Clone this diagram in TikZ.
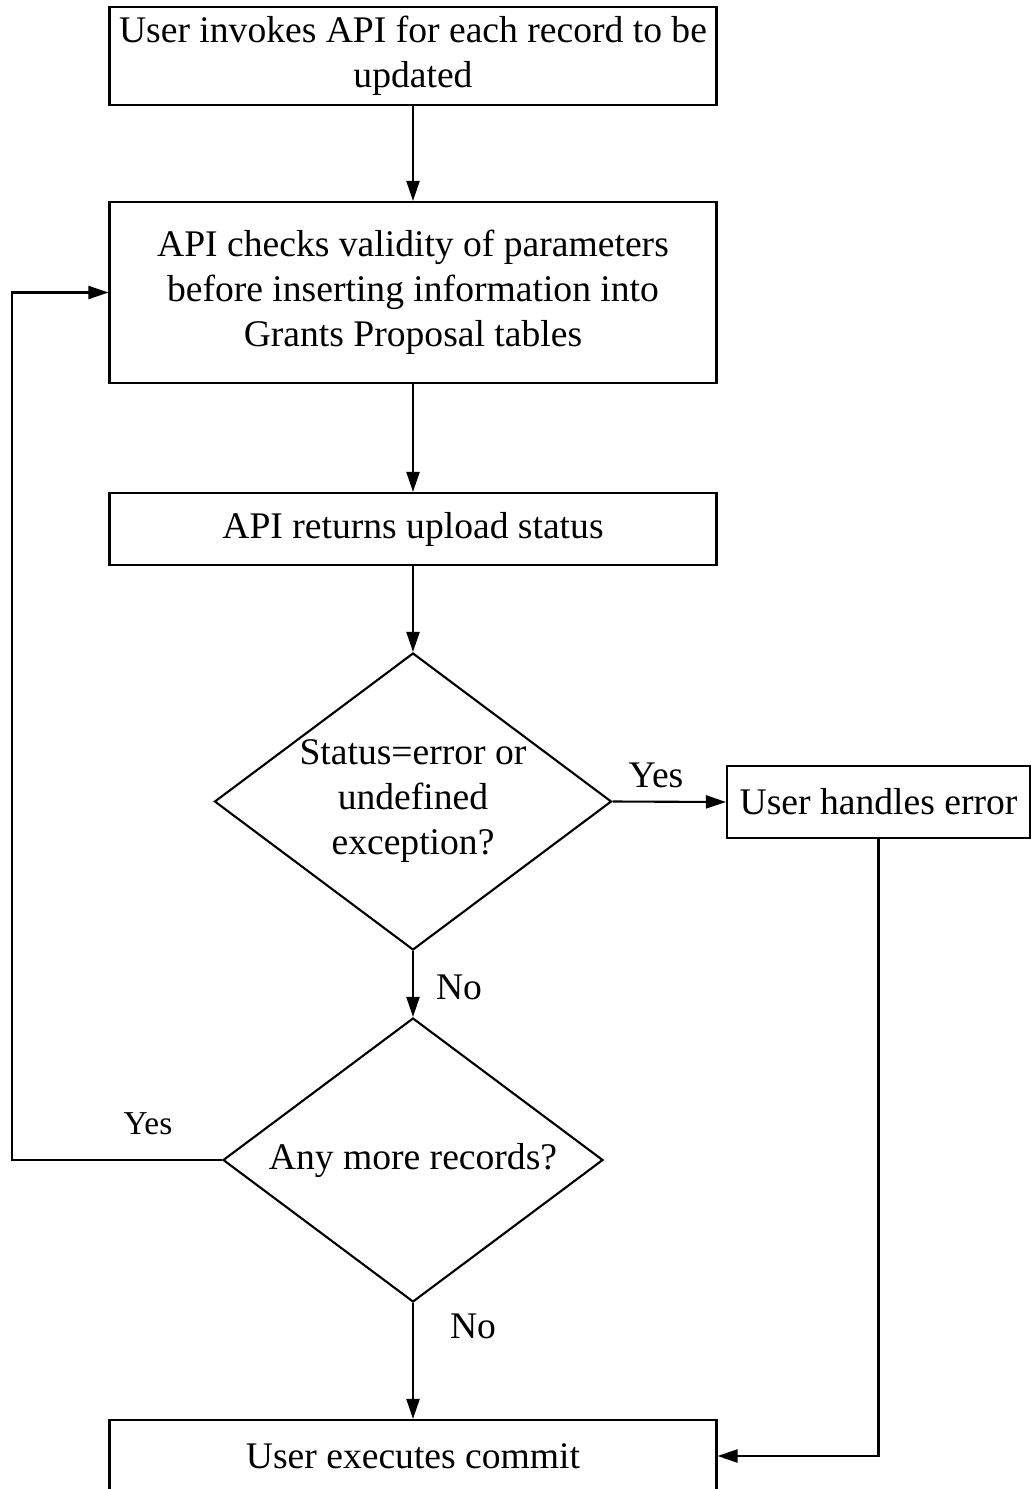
\documentclass[tikz,border=0pt]{standalone}
\usepackage{fontspec}
\setmainfont{Liberation Serif}
\usetikzlibrary{shapes.geometric, arrows.meta}

\begin{document}
\begin{tikzpicture}[every node/.style={font=\fontsize{10.7}{12.8}\selectfont}, line width=0.6pt]
    \tikzset{box/.style={rectangle, draw, align=center, inner sep=0pt, minimum width=6.07cm},
             decision/.style={diamond, draw, align=center, inner sep=0pt, aspect=1.337},
             flow/.style={-{Triangle[length=2mm, width=1.3mm]}}}

    \useasboundingbox (0,0) rectangle (10.32,-14.89);

    \node[box, minimum height=0.98cm] (invoke) at (4.13,-0.56) {User invokes API for each record to be\\updated};
    \node[box, minimum height=1.81cm] (check) at (4.13,-2.925) {API checks validity of parameters\\before inserting information into\\Grants Proposal tables};
    \node[box, minimum height=0.72cm] (status) at (4.13,-5.29) {API returns upload status};
    \node[decision, minimum width=3.97cm, minimum height=2.97cm] (err) at (4.13,-8.015) {Status=error or\\undefined\\exception?};
    \node[box, minimum width=3.03cm, minimum height=0.72cm] (handle) at (8.785,-8.02) {User handles error};
    \node[decision, minimum width=3.80cm, minimum height=2.84cm] (more) at (4.13,-11.60) {Any more records?};
    \node[box, minimum height=0.72cm] (commit) at (4.13,-14.56) {User executes commit};

    \coordinate (back) at (0.12,-11.60);

    \draw[flow] (invoke) -- (check);
    \draw[flow] (check) -- (status);
    \draw[flow] (status) -- (err);
    \draw[flow] (err.east) -- (handle.west);
    \draw[flow] (err.south) -- (more.north);
    \draw[flow] (more.south) -- (commit.north);
    \draw[flow] (more.west) -- (back) |- (check.west);
    \draw[flow] (handle.south) |- (commit.east);

    \node (yes1) at (6.56,-7.75) {Yes};
    \node (no1) at (4.59,-9.87) {No};
    \node[font=\fontsize{9.5}{11}\selectfont] (yes2) at (1.48,-11.24) {Yes};
    \node (no2) at (4.73,-13.26) {No};
\end{tikzpicture}
\end{document}
